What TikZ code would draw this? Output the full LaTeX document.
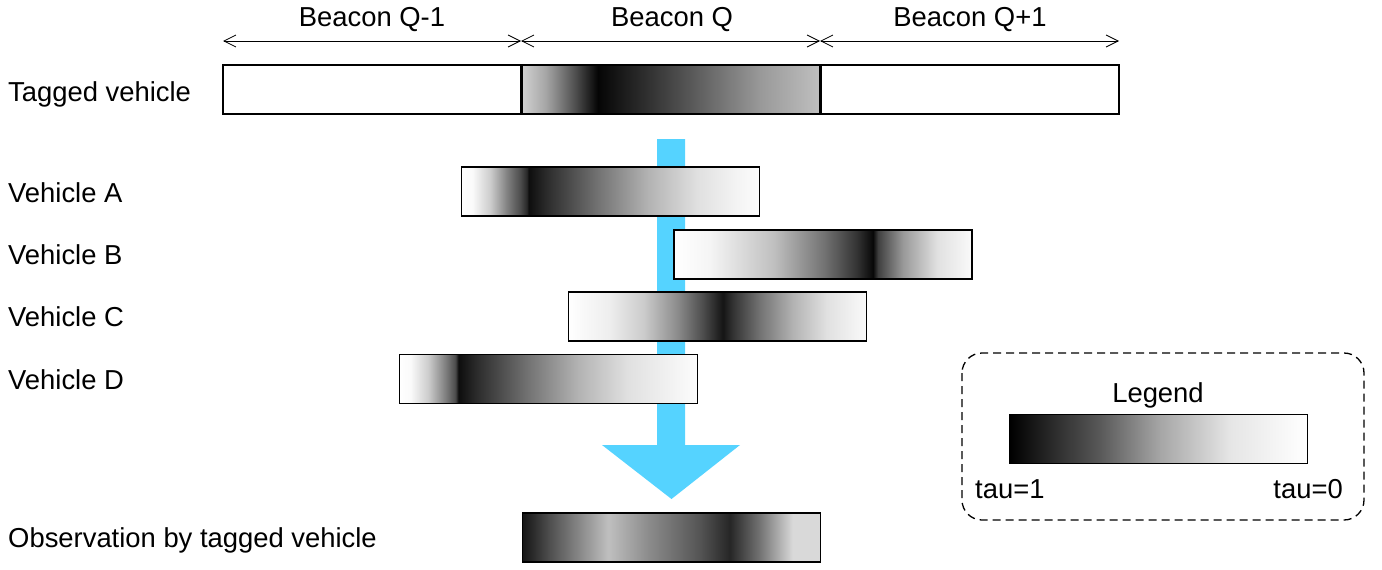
\documentclass[tikz,border=0pt]{standalone}
\usepackage{fontspec}
\setmainfont{Liberation Sans}
\usetikzlibrary{arrows.meta}
\definecolor{flowblue}{HTML}{55D3FF}
\pgfdeclarehorizontalshading{shTagQ}{100bp}{gray(0bp)=(0.82); gray(25bp)=(0.82); gray(29.01bp)=(0.65); gray(34.03bp)=(0.3); gray(37.71bp)=(0.02); gray(46.57bp)=(0.2); gray(54.93bp)=(0.38); gray(64.97bp)=(0.6); gray(75bp)=(0.75); gray(100bp)=(0.75)}
\pgfdeclarehorizontalshading{shA}{100bp}{gray(0bp)=(1); gray(25bp)=(1); gray(26.84bp)=(0.98); gray(29.85bp)=(0.8); gray(32.69bp)=(0.5); gray(34.87bp)=(0.3); gray(36.04bp)=(0.15); gray(36.2bp)=(0.05); gray(39.55bp)=(0.18); gray(47.91bp)=(0.45); gray(56.27bp)=(0.7); gray(64.63bp)=(0.88); gray(71.66bp)=(0.96); gray(75bp)=(0.99); gray(100bp)=(0.99)}
\pgfdeclarehorizontalshading{shB}{100bp}{gray(0bp)=(1); gray(25bp)=(1); gray(31.04bp)=(0.96); gray(41.78bp)=(0.75); gray(50.17bp)=(0.45); gray(55.7bp)=(0.2); gray(58.39bp)=(0.03); gray(59.23bp)=(0.25); gray(63.42bp)=(0.6); gray(69.13bp)=(0.88); gray(75bp)=(0.98); gray(100bp)=(0.98)}
\pgfdeclarehorizontalshading{shC}{100bp}{gray(0bp)=(1); gray(25bp)=(1); gray(32.02bp)=(0.93); gray(37.54bp)=(0.8); gray(43.23bp)=(0.55); gray(47.58bp)=(0.3); gray(50.92bp)=(0.08); gray(52.59bp)=(0.2); gray(57.11bp)=(0.45); gray(62.63bp)=(0.7); gray(68.31bp)=(0.88); gray(75bp)=(0.98); gray(100bp)=(0.98)}
\pgfdeclarehorizontalshading{shD}{100bp}{gray(0bp)=(1); gray(25bp)=(1); gray(26.84bp)=(0.98); gray(29.85bp)=(0.8); gray(32.69bp)=(0.5); gray(34.36bp)=(0.3); gray(34.7bp)=(0.15); gray(34.87bp)=(0.05); gray(38.21bp)=(0.18); gray(46.57bp)=(0.45); gray(54.93bp)=(0.7); gray(63.29bp)=(0.88); gray(71.66bp)=(0.96); gray(75bp)=(0.99); gray(100bp)=(0.99)}
\pgfdeclarehorizontalshading{shObs}{100bp}{gray(0bp)=(0.08); gray(25bp)=(0.08); gray(29.35bp)=(0.3); gray(39.38bp)=(0.75); gray(46.07bp)=(0.55); gray(54.77bp)=(0.33); gray(59.78bp)=(0.15); gray(64.8bp)=(0.45); gray(70.32bp)=(0.85); gray(75bp)=(0.85); gray(100bp)=(0.85)}
\pgfdeclarehorizontalshading{shLeg}{100bp}{gray(0bp)=(0); gray(25bp)=(0); gray(40.22bp)=(0.35); gray(50.25bp)=(0.65); gray(61.96bp)=(0.9); gray(75bp)=(1); gray(100bp)=(1)}
\begin{document}
\begin{tikzpicture}[x=1pt,y=-1pt,
  every node/.style={font=\fontsize{27.4}{32}\selectfont},
  bar/.style={draw=black, line width=1.5pt, minimum width=298pt, minimum height=49pt, inner sep=0pt, outer sep=0pt},
  lbl/.style={anchor=base west, inner sep=0pt},
  dim/.style={line width=0.8pt, {Straight Barb[length=12pt,width=12pt]}-{Straight Barb[length=12pt,width=12pt]}}]
\useasboundingbox (0,0) rectangle (1382,570);
% blue flow arrow (behind bars)
\fill[flowblue] (657,139) -- (685,139) -- (685,445) -- (740,445) -- (671.5,499) -- (602,445) -- (657,445) -- cycle;
% tagged vehicle bar
\node[bar, fill=white] (Qm1) at (372,89.5) {};
\node[bar, shading=shTagQ] (Q) at (671,89.5) {};
\node[bar, fill=white] (Qp1) at (970,89.5) {};
% dimension lines
\coordinate (d0) at (223,41);
\coordinate (d1) at (521,41);
\coordinate (d2) at (820,41);
\coordinate (d3) at (1119,41);
\draw[dim] (d0) -- (d1);
\draw[dim] (d1) -- (d2);
\draw[dim] (d2) -- (d3);
\node[anchor=base, inner sep=0pt] (bq1) at (372,27) {Beacon Q-1};
\node[anchor=base, inner sep=0pt] (bq) at (672,27) {Beacon Q};
\node[anchor=base, inner sep=0pt] (bq2) at (970,27) {Beacon Q+1};
% vehicles
\node[bar, shading=shA] (A) at (610.5,191.5) {};
\node[bar, shading=shB] (B) at (823,254.5) {};
\node[bar, shading=shC] (C) at (717.5,316.5) {};
\node[bar, shading=shD] (D) at (548.5,379) {};
\node[bar, shading=shObs] (O) at (671.5,537.5) {};
% labels
\node[lbl] (lt) at (8,101) {Tagged vehicle};
\node[lbl] (la) at (8,202) {Vehicle A};
\node[lbl] (lb) at (8,264) {Vehicle B};
\node[lbl] (lc) at (8,326) {Vehicle C};
\node[lbl] (ld) at (8,389) {Vehicle D};
\node[lbl] (lo) at (8,547) {Observation by tagged vehicle};
% legend
\draw[line width=1.3pt, dash pattern=on 8pt off 5pt, rounded corners=20pt] (962,353) rectangle (1364,520);
\node[anchor=base, inner sep=0pt] (lg) at (1158,402) {Legend};
\node[bar, shading=shLeg] (L) at (1158.5,439) {};
\node[lbl] (t1) at (975,498) {tau=1};
\node[anchor=base east, inner sep=0pt] (t0) at (1343,498) {tau=0};
\end{tikzpicture}
\end{document}
